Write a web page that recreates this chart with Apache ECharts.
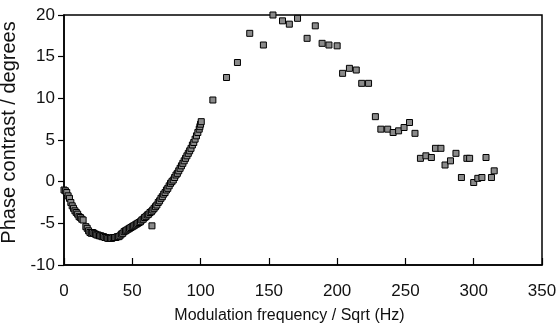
<!DOCTYPE html>
<html><head><meta charset="utf-8">
<script src="https://cdn.jsdelivr.net/npm/echarts@6/dist/echarts.min.js"></script>
<style>html,body{margin:0;padding:0;background:#fff}#c{width:557px;height:330px}</style>
</head><body><div id="c"></div>
<script>
// Dense low-frequency measurements
const freqLow = [0,1,2,3,4,5,6,7,8,9,10,11,12,13,14,16,17,18,19,20,21,22,23,24,25,26,27,28,29,30,31,32,33,34,35,36,37,38,39,40,41,42,43,44,45,46,47,48,49,50,51,52,53,54,55,56,57,58,59,60,61,62,63,64,64.4,65,66,67,68,69,70,71,72,73,74,75,76,77,78,79,80,81,82,83,84,85,86,87,88,89,90,91,92,93,94,95,96,97,98,99,99.5,100,100.5];
const phaseLow = [-1.0,-1.1,-1.3,-1.7,-2.0,-2.5,-2.9,-3.2,-3.5,-3.7,-3.9,-4.2,-4.3,-4.5,-4.6,-5.4,-5.6,-5.9,-6.1,-6.2,-6.1,-6.2,-6.3,-6.4,-6.4,-6.5,-6.5,-6.6,-6.6,-6.7,-6.7,-6.8,-6.8,-6.8,-6.8,-6.7,-6.7,-6.7,-6.6,-6.6,-6.5,-6.3,-6.2,-6.0,-5.9,-5.8,-5.7,-5.6,-5.5,-5.4,-5.3,-5.2,-5.1,-5.0,-4.9,-4.8,-4.6,-4.5,-4.3,-4.2,-4.0,-3.9,-3.7,-3.6,-5.3,-3.4,-3.2,-3.0,-2.8,-2.5,-2.3,-2.0,-1.8,-1.5,-1.3,-1.0,-0.8,-0.5,-0.2,0.0,0.2,0.5,0.8,1.0,1.3,1.6,1.9,2.2,2.5,2.8,3.1,3.4,3.7,4.0,4.4,4.7,5.1,5.5,5.9,6.3,6.6,6.9,7.2];
// Sparse high-frequency measurements
const freqHigh = [109,119,127,136,146,153,160,165,171,178,184,189,194,200,204,209,214,218,223,228,232,237,241,245,249,253,257,261,265,269,272,276,279,283,287,291,295,297,300,303,306,309,313,315];
const phaseHigh = [9.8,12.5,14.3,17.8,16.4,20.0,19.3,18.9,19.6,17.2,18.7,16.6,16.4,16.3,13.0,13.6,13.4,11.8,11.8,7.8,6.3,6.3,5.9,6.1,6.5,7.1,5.8,2.8,3.1,2.9,4.0,4.0,2.0,2.5,3.4,0.5,2.8,2.8,-0.1,0.4,0.5,2.9,0.5,1.3];
const xTicks = {min:0, max:350, interval:50};
const yTicks = {min:-10, max:20, interval:5};
const xName = 'Modulation frequency / Sqrt (Hz)';
const yName = 'Phase contrast / degrees';

const data = freqLow.map((f,i)=>[f,phaseLow[i]]).concat(freqHigh.map((f,i)=>[f,phaseHigh[i]]));
const font = 'Liberation Sans, Arial, sans-serif';
const chart = echarts.init(document.getElementById('c'), null, {renderer:'canvas'});
chart.setOption({
  animation:false,
  backgroundColor:'#fff',
  grid:{left:64,right:15,top:15,bottom:65,show:true,borderColor:'#000',borderWidth:1.5,
    backgroundColor:'transparent',containLabel:false,outerBoundsMode:'none'},
  xAxis:{type:'value',min:xTicks.min,max:xTicks.max,interval:xTicks.interval,
    name:xName,nameLocation:'middle',nameGap:43,
    nameTextStyle:{fontFamily:font,fontSize:16,color:'#111',padding:[0,27,0,0]},
    axisLine:{show:true,onZero:false,lineStyle:{color:'#000',width:1.5}},
    axisTick:{show:true,inside:true,length:7,lineStyle:{color:'#000',width:1.2}},
    axisLabel:{fontFamily:font,fontSize:17,color:'#111',margin:18},
    splitLine:{show:false}},
  yAxis:{type:'value',min:yTicks.min,max:yTicks.max,interval:yTicks.interval,
    name:yName,nameLocation:'middle',nameGap:38,
    nameTextStyle:{fontFamily:font,fontSize:20,color:'#111',padding:[0,0,0,15]},
    axisLine:{show:true,onZero:false,lineStyle:{color:'#000',width:1.5}},
    axisTick:{show:true,length:6,lineStyle:{color:'#000',width:1.2}},
    axisLabel:{fontFamily:font,fontSize:17,color:'#111',margin:9},
    splitLine:{show:false}},
  series:[{type:'scatter',data:data,symbol:'rect',symbolSize:6,
    itemStyle:{color:'#8a8a8a',borderColor:'#000',borderWidth:1,opacity:1}}]
});
</script></body></html>
